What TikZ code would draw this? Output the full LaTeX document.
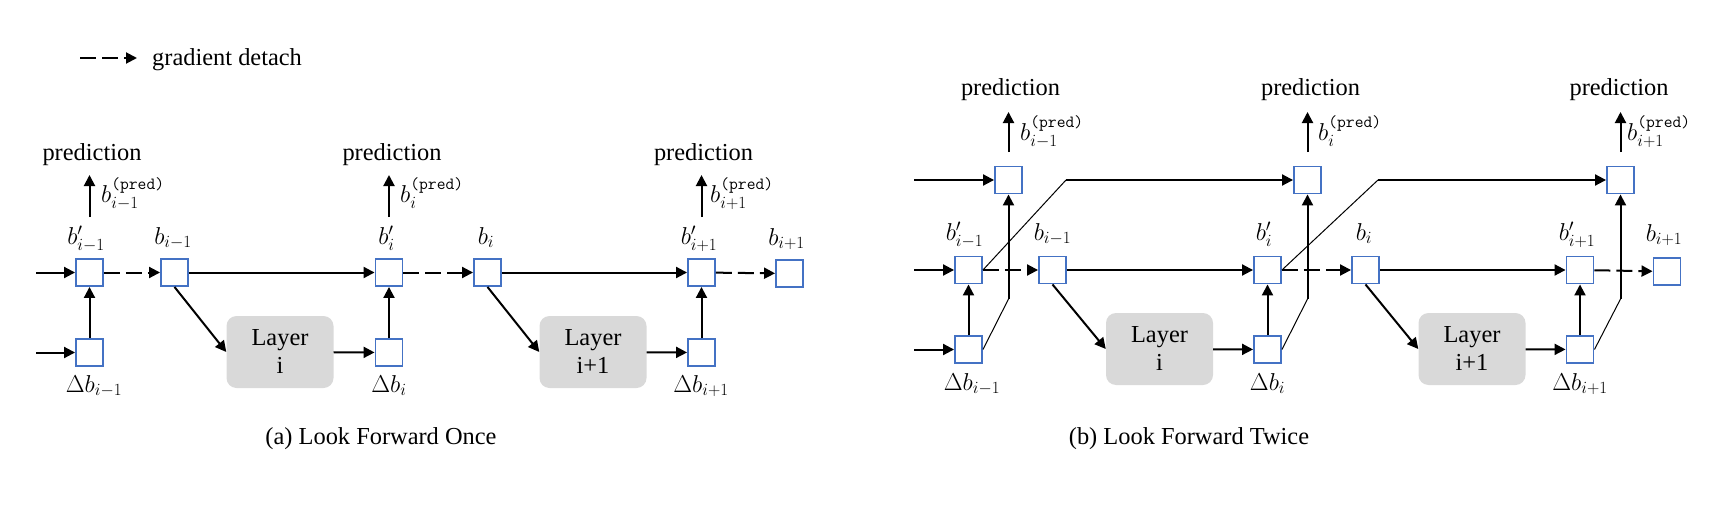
\RequirePackage{fix-cm}
\documentclass[tikz,border=0pt]{standalone}
\usepackage{amsmath}
\usepackage{fontspec}
\setmainfont{Liberation Serif}
\usetikzlibrary{arrows.meta,positioning,calc}
\definecolor{boxblue}{HTML}{4472C4}
\definecolor{layergrey}{HTML}{D9D9D9}
\newcommand{\predsup}{\text{\ttfamily(pred)}}

\begin{document}
\begin{tikzpicture}[
  x=1pt, y=-1pt,
  font=\fontsize{24.4}{28}\selectfont,
  sq/.style={draw=boxblue, line width=1.9pt, fill=white, minimum size=27pt, inner sep=0pt},
  layer/.style={fill=layergrey, rounded corners=10pt, minimum width=107pt, minimum height=72pt, align=center, inner sep=0pt},
  arr/.style={-{Triangle[length=11pt,width=11pt]}, line width=2pt},
  det/.style={arr, dash pattern=on 16pt off 6pt},
  lnk/.style={line width=1pt},
  lbl/.style={inner sep=0pt, anchor=base},
  tag/.style={inner sep=0pt, anchor=base west}
]
\useasboundingbox (0,0) rectangle (1730,530);

% legend
\coordinate (lg0) at (80,58);
\coordinate (lg1) at (137,58);
\draw[det] (lg0) -- (lg1);
\node[tag] (lgt) at (152,65) {gradient detach};

% (a) look forward once
\node[sq] (pa1) at (89.5,272.5) {};
\node[sq] (da1) at (89.5,352.5) {};
\node[sq] (ba1) at (174.5,272.5) {};
\node[sq] (pa2) at (389,272.5) {};
\node[sq] (da2) at (389,352.5) {};
\node[sq] (ba2) at (487.5,272.5) {};
\node[sq] (pa3) at (701.5,272.5) {};
\node[sq] (da3) at (701.5,352.5) {};
\node[sq] (ba3) at (789.5,273.5) {};
\node[layer] (la1) at (280,352) {Layer\\i};
\node[layer] (la2) at (593,352) {Layer\\i+1};

\node[lbl] (lpa1) at (86,244) {$b'_{i-1}$};
\node[lbl] (lba1) at (173,244) {$b_{i-1}$};
\node[lbl] (lpa2) at (386.5,244) {$b'_{i}$};
\node[lbl] (lba2) at (486,244) {$b_{i}$};
\node[lbl] (lpa3) at (699,244) {$b'_{i+1}$};
\node[lbl] (lba3) at (786.5,245) {$b_{i+1}$};
\node[lbl] (lda1) at (94,392) {$\Delta b_{i-1}$};
\node[lbl] (lda2) at (389,392) {$\Delta b_{i}$};
\node[lbl] (lda3) at (701,392) {$\Delta b_{i+1}$};

\node[lbl] (pra1) at (92,160) {prediction};
\node[lbl] (pra2) at (392,160) {prediction};
\node[lbl] (pra3) at (703.5,160) {prediction};
\node[tag] (qa1) at (101,202) {$b_{i-1}^{\predsup}$};
\node[tag] (qa2) at (400,202) {$b_{i}^{\predsup}$};
\node[tag] (qa3) at (710,202) {$b_{i+1}^{\predsup}$};

\coordinate (ina1) at (36,272.5);
\coordinate (ina2) at (36,352.5);
\coordinate (sa1) at (89.5,217);  \coordinate (ta1) at (89.5,175);
\coordinate (sa2) at (389,217);   \coordinate (ta2) at (389,175);
\coordinate (sa3) at (701.5,217); \coordinate (ta3) at (701.5,175);

\draw[arr] (ina1) -- (pa1); \draw[arr] (ina2) -- (da1); \draw[arr] (da1) -- (pa1);
\draw[det] (pa1) -- (ba1); \draw[arr] (ba1) -- (pa2); \draw[arr] (ba1.south) -- (la1.west);
\draw[arr] (la1) -- (da2); \draw[arr] (da2) -- (pa2); \draw[det] (pa2) -- (ba2);
\draw[arr] (ba2) -- (pa3); \draw[arr] (ba2.south) -- (la2.west); \draw[arr] (la2) -- (da3);
\draw[arr] (da3) -- (pa3); \draw[det] (pa3) -- (ba3);
\draw[arr] (sa1) -- (ta1); \draw[arr] (sa2) -- (ta2); \draw[arr] (sa3) -- (ta3);

\node[lbl] (capa) at (381,444) {(a) Look Forward Once};

% (b) look forward twice
\node[sq] (qb1) at (1008.5,180) {};
\node[sq] (qb2) at (1307.5,180) {};
\node[sq] (qb3) at (1620.5,180) {};
\node[sq] (pb1) at (968.5,270) {};
\node[sq] (db1) at (968.5,349.5) {};
\node[sq] (bb1) at (1052.5,270) {};
\node[sq] (pb2) at (1267.5,270) {};
\node[sq] (db2) at (1267.5,349.5) {};
\node[sq] (bb2) at (1365.5,270) {};
\node[sq] (pb3) at (1580,270) {};
\node[sq] (db3) at (1580,349.5) {};
\node[sq] (bb3) at (1667,271.5) {};
\node[layer] (lb1) at (1159.5,349) {Layer\\i};
\node[layer] (lb2) at (1472,349) {Layer\\i+1};

\node[lbl] (lpb1) at (964.5,240) {$b'_{i-1}$};
\node[lbl] (lbb1) at (1052.5,240) {$b_{i-1}$};
\node[lbl] (lpb2) at (1264,240) {$b'_{i}$};
\node[lbl] (lbb2) at (1364,240) {$b_{i}$};
\node[lbl] (lpb3) at (1577,240) {$b'_{i+1}$};
\node[lbl] (lbb3) at (1664,241) {$b_{i+1}$};
\node[lbl] (ldb1) at (972,390) {$\Delta b_{i-1}$};
\node[lbl] (ldb2) at (1267.5,390) {$\Delta b_{i}$};
\node[lbl] (ldb3) at (1580,390) {$\Delta b_{i+1}$};

\node[lbl] (prb1) at (1010.5,95) {prediction};
\node[lbl] (prb2) at (1310.5,95) {prediction};
\node[lbl] (prb3) at (1619,95) {prediction};
\node[tag] (qlb1) at (1020,140) {$b_{i-1}^{\predsup}$};
\node[tag] (qlb2) at (1318,140) {$b_{i}^{\predsup}$};
\node[tag] (qlb3) at (1627,140) {$b_{i+1}^{\predsup}$};

\coordinate (inb0) at (914,180);
\coordinate (inb1) at (914,270);
\coordinate (inb2) at (914,349.5);
\coordinate (sb1) at (1008.5,152); \coordinate (tb1) at (1008.5,112);
\coordinate (sb2) at (1307.5,152); \coordinate (tb2) at (1307.5,112);
\coordinate (sb3) at (1620.5,152); \coordinate (tb3) at (1620.5,112);
\coordinate (kb1) at (1008.5,299); \coordinate (hb1) at (1066,180);
\coordinate (kb2) at (1307.5,299); \coordinate (hb2) at (1378,180);
\coordinate (kb3) at (1620.5,299);

\draw[arr] (inb0) -- (qb1); \draw[arr] (inb1) -- (pb1); \draw[arr] (inb2) -- (db1);
\draw[arr] (db1) -- (pb1); \draw[det] (pb1) -- (bb1);
\draw[lnk] (db1.east) -- (kb1); \draw[arr] (kb1) -- (qb1);
\draw[lnk] (pb1.east) -- (hb1); \draw[arr] (hb1) -- (qb2);
\draw[arr] (bb1) -- (pb2); \draw[arr] (bb1.south) -- (lb1.west); \draw[arr] (lb1) -- (db2);
\draw[arr] (db2) -- (pb2); \draw[det] (pb2) -- (bb2);
\draw[lnk] (db2.east) -- (kb2); \draw[arr] (kb2) -- (qb2);
\draw[lnk] (pb2.east) -- (hb2); \draw[arr] (hb2) -- (qb3);
\draw[arr] (bb2) -- (pb3); \draw[arr] (bb2.south) -- (lb2.west); \draw[arr] (lb2) -- (db3);
\draw[arr] (db3) -- (pb3); \draw[det] (pb3) -- (bb3);
\draw[lnk] (db3.east) -- (kb3); \draw[arr] (kb3) -- (qb3);
\draw[arr] (sb1) -- (tb1); \draw[arr] (sb2) -- (tb2); \draw[arr] (sb3) -- (tb3);

\node[lbl] (capb) at (1189,444) {(b) Look Forward Twice};
\end{tikzpicture}
\end{document}
